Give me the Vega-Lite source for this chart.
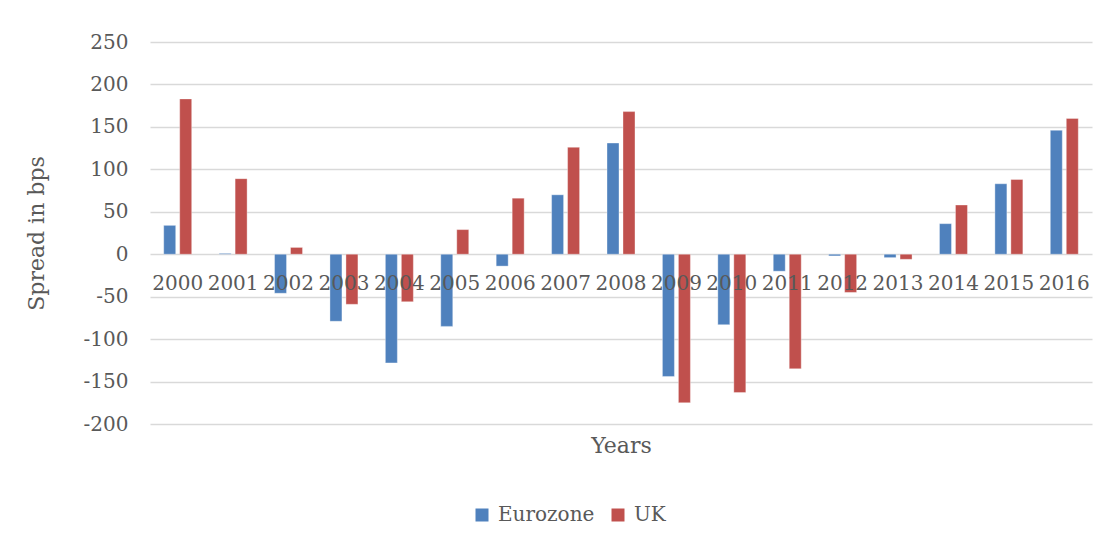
{
  "$schema": "https://vega.github.io/schema/vega-lite/v6.json",
  "width": 942,
  "height": 382,
  "autosize": {"type": "none"},
  "padding": {"left": 150, "top": 42, "right": 20, "bottom": 123},
  "background": "#ffffff",
  "config": {
    "view": {"stroke": null},
    "font": "DejaVu Serif",
    "axis": {"labelFont": "DejaVu Serif", "titleFont": "DejaVu Serif", "labelColor": "#595959", "titleColor": "#595959", "titleFontWeight": "normal"},
    "legend": {"labelFont": "DejaVu Serif", "labelColor": "#595959"}
  },
  "data": {
    "values": [
      {"year": "2000", "series": "Eurozone", "spread": 34},
      {"year": "2000", "series": "UK", "spread": 183},
      {"year": "2001", "series": "Eurozone", "spread": 1},
      {"year": "2001", "series": "UK", "spread": 89},
      {"year": "2002", "series": "Eurozone", "spread": -46},
      {"year": "2002", "series": "UK", "spread": 8},
      {"year": "2003", "series": "Eurozone", "spread": -79},
      {"year": "2003", "series": "UK", "spread": -59},
      {"year": "2004", "series": "Eurozone", "spread": -128},
      {"year": "2004", "series": "UK", "spread": -56},
      {"year": "2005", "series": "Eurozone", "spread": -85},
      {"year": "2005", "series": "UK", "spread": 29},
      {"year": "2006", "series": "Eurozone", "spread": -14},
      {"year": "2006", "series": "UK", "spread": 66},
      {"year": "2007", "series": "Eurozone", "spread": 70},
      {"year": "2007", "series": "UK", "spread": 126},
      {"year": "2008", "series": "Eurozone", "spread": 131},
      {"year": "2008", "series": "UK", "spread": 168},
      {"year": "2009", "series": "Eurozone", "spread": -144},
      {"year": "2009", "series": "UK", "spread": -175},
      {"year": "2010", "series": "Eurozone", "spread": -83},
      {"year": "2010", "series": "UK", "spread": -163},
      {"year": "2011", "series": "Eurozone", "spread": -20},
      {"year": "2011", "series": "UK", "spread": -135},
      {"year": "2012", "series": "Eurozone", "spread": -2},
      {"year": "2012", "series": "UK", "spread": -45},
      {"year": "2013", "series": "Eurozone", "spread": -4},
      {"year": "2013", "series": "UK", "spread": -6},
      {"year": "2014", "series": "Eurozone", "spread": 36},
      {"year": "2014", "series": "UK", "spread": 58},
      {"year": "2015", "series": "Eurozone", "spread": 83},
      {"year": "2015", "series": "UK", "spread": 88},
      {"year": "2016", "series": "Eurozone", "spread": 146},
      {"year": "2016", "series": "UK", "spread": 160}
    ]
  },
  "mark": {"type": "bar", "stroke": "#ffffff", "strokeWidth": 0.6, "strokeOpacity": 0.6},
  "encoding": {
    "x": {
      "field": "year",
      "type": "nominal",
      "sort": null,
      "scale": {"paddingInner": 0.495, "paddingOuter": 0.2475},
      "axis": {
        "title": "Years",
        "titleFontSize": 22,
        "titlePadding": 142,
        "labelAngle": 0,
        "labelFontSize": 20,
        "labelPadding": 19,
        "labelOverlap": false,
        "labelBound": false,
        "labelFlush": false,
        "domain": false,
        "ticks": false,
        "grid": false,
        "offset": -169.5,
        "zindex": 1
      }
    },
    "xOffset": {
      "field": "series",
      "type": "nominal",
      "scale": {"paddingInner": 0.25, "paddingOuter": 0}
    },
    "y": {
      "field": "spread",
      "type": "quantitative",
      "scale": {"domain": [-200, 250], "nice": false, "zero": false},
      "axis": {
        "title": "Spread in bps",
        "titleFontSize": 22,
        "titlePadding": 35,
        "values": [-200, -150, -100, -50, 0, 50, 100, 150, 200, 250],
        "labelExpr": "datum.value < 0 ? '-' + abs(datum.value) : '' + datum.value",
        "labelFontSize": 20,
        "labelPadding": 22,
        "domain": false,
        "ticks": false,
        "grid": true,
        "gridColor": "#d9d9d9",
        "gridWidth": 1.4
      }
    },
    "color": {
      "field": "series",
      "type": "nominal",
      "scale": {"domain": ["Eurozone", "UK"], "range": ["#4f81bd", "#c0504d"]},
      "legend": {
        "title": null,
        "orient": "none",
        "direction": "horizontal",
        "legendX": 322,
        "legendY": 463,
        "symbolType": "square",
        "symbolSize": 169,
        "symbolStrokeWidth": 0,
        "labelFontSize": 20,
        "labelOffset": 6,
        "columnPadding": 13
      }
    }
  }
}
